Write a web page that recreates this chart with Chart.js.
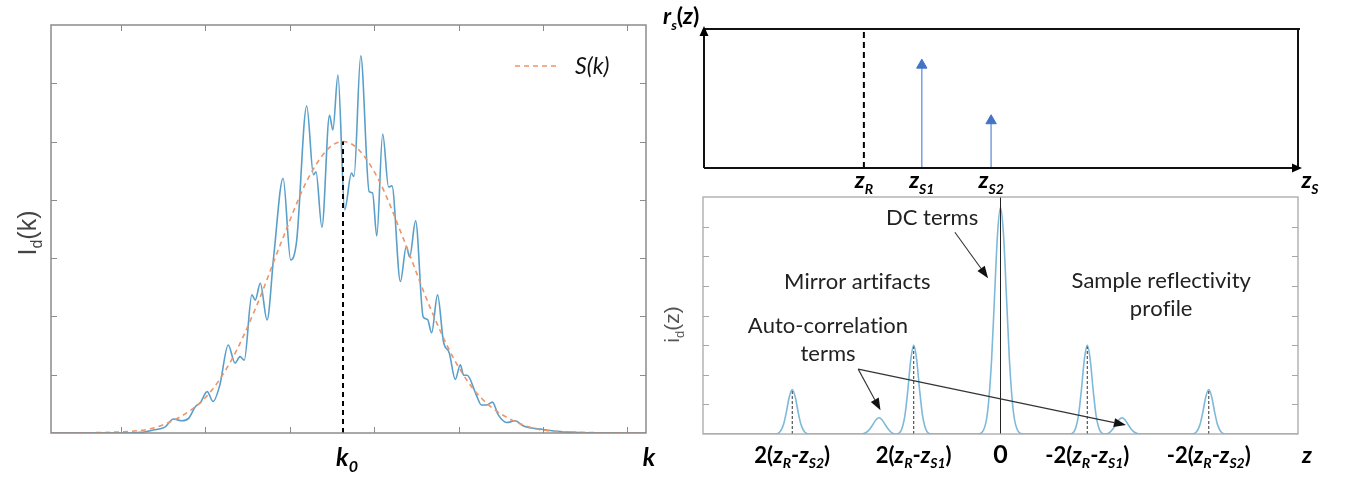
<!DOCTYPE html>
<html>
<head>
<meta charset="utf-8">
<script src="https://cdn.jsdelivr.net/npm/chart.js@4.4.0/dist/chart.umd.min.js"></script>
<style>
  html, body { margin: 0; padding: 0; background: #fff; }
  #wrap { position: relative; width: 1345px; height: 477px; overflow: hidden; }
  canvas { position: absolute; }
</style>
</head>
<body>
<div id="wrap">
  <canvas id="spectrum" width="680" height="477" style="left:0;top:0"></canvas>
  <canvas id="ascan" width="705" height="287" style="left:640px;top:190px"></canvas>
  <canvas id="reflect" width="705" height="205" style="left:640px;top:0"></canvas>
</div>
<script>
// ---- left: spectral interferogram I_d(k) and source spectrum S(k)
const kValues = [-0.83, 0.10, 0.23, 0.38, 0.52, 0.62, 0.72, 0.80, 0.88, 0.94, 1.02, 1.09, 1.17, 1.27, 1.35, 1.41, 1.46,
  1.55, 1.59, 1.65, 1.73, 1.81, 1.92, 2.01, 2.08, 2.20, 2.28, 2.31, 2.38, 2.47, 2.51, 2.57, 2.65, 2.73, 2.76, 2.84,
  2.94, 2.98, 3.03, 3.10, 3.17, 3.21, 3.31, 3.38, 3.42, 3.49, 3.58, 3.63, 3.68, 3.75, 3.82, 3.89, 3.96, 4.02, 4.06,
  4.10, 4.21, 4.27, 4.33, 4.40, 4.47, 4.57, 4.67, 4.77, 5.00, 5.24, 5.64, 6.22];
const idValues = [0, 0, 0.01, 0.05, 0.10, 0.24, 0.21, 0.25, 0.45, 0.52, 0.71, 0.54, 0.82, 1.51, 1.20, 1.31, 1.25,
  2.37, 2.28, 2.57, 1.94, 3.05, 4.37, 2.97, 3.29, 5.61, 4.43, 4.48, 3.53, 5.45, 5.20, 6.14, 3.83, 4.46, 4.40, 6.47,
  4.14, 4.12, 3.38, 5.13, 4.22, 4.24, 2.60, 3.20, 3.02, 3.64, 1.99, 1.95, 1.72, 2.37, 1.57, 1.37, 0.92, 1.17, 0.99,
  0.99, 0.65, 0.48, 0.48, 0.53, 0.31, 0.18, 0.21, 0.12, 0.06, 0.02, 0, 0];
const sourceK = [-0.83, 0, 0.5, 1.0, 1.3, 1.6, 1.9, 2.2, 2.45, 2.63, 2.81, 3.06, 3.36, 3.66, 3.96, 4.26, 4.76, 5.26, 6.22];
const sourceValues = [0, 0.02, 0.14, 0.61, 1.23, 2.16, 3.28, 4.32, 4.87, 5.0, 4.87, 4.32, 3.28, 2.16, 1.23, 0.61, 0.14, 0.02, 0];
const k0 = 2.63;
const kTicks = [0, 1, 2, 3, 4, 5, 6];
const iTicks = [1, 2, 3, 4, 5, 6];

// ---- top right: sample reflectivity r_s(z)
const zR = 3.23;
const zSamples = [4.40, 5.80];
const rsValues = [0.74, 0.34];
const zSampleLabels = ['z_{S1}', 'z_{S2}'];

// ---- bottom right: A-scan i_d(z)
const zValues = [-6, -4.56, -4.46, -4.38, -4.32, -4.26, -4.2, -4.14, -4.08, -4.02, -3.94, -3.84,
  -2.81, -2.71, -2.63, -2.57, -2.51, -2.45, -2.39, -2.33, -2.27, -2.19,
  -2.11, -2.01, -1.93, -1.87, -1.81, -1.75, -1.69, -1.63, -1.57, -1.49, -1.39,
  -0.46, -0.36, -0.26, -0.18, -0.12, -0.06, 0, 0.06, 0.12, 0.18, 0.26, 0.36, 0.46,
  1.39, 1.49, 1.57, 1.63, 1.69, 1.75, 1.81, 1.87, 1.93, 2.01, 2.11,
  2.19, 2.27, 2.33, 2.39, 2.45, 2.51, 2.57, 2.63, 2.71, 2.81,
  3.84, 3.94, 4.02, 4.08, 4.14, 4.2, 4.26, 4.32, 4.38, 4.46, 4.56, 6];
const aScanValues = [0, 0, 0.05, 0.3, 0.73, 1.25, 1.5, 1.25, 0.73, 0.3, 0.05, 0,
  0, 0.05, 0.18, 0.33, 0.48, 0.55, 0.48, 0.33, 0.18, 0.04,
  0, 0.1, 0.6, 1.46, 2.5, 3.0, 2.5, 1.46, 0.6, 0.1, 0,
  0, 0.08, 0.75, 2.5, 4.65, 6.75, 7.65, 6.75, 4.65, 2.5, 0.75, 0.08, 0,
  0, 0.1, 0.6, 1.46, 2.5, 3.0, 2.5, 1.46, 0.6, 0.1, 0,
  0.04, 0.18, 0.33, 0.48, 0.55, 0.48, 0.33, 0.18, 0.05, 0,
  0, 0.05, 0.3, 0.73, 1.25, 1.5, 1.25, 0.73, 0.3, 0.05, 0, 0];
const mirrorPos = [-4.2, -1.75, 1.75, 4.2];
const mirrorHeights = [1.45, 2.95, 2.95, 1.45];
const zTickPos = [-4.2, -1.75, 0, 1.75, 4.2];
const zTickLabels = ['2(z_R-z_{S2})', '2(z_R-z_{S1})', '0', '-2(z_R-z_{S1})', '-2(z_R-z_{S2})'];
const aTicks = [1, 2, 3, 4, 5, 6, 7];

const BLUE = '#5a9fc9';
const BLUE_LIGHT = '#7fb9d8';
const ORANGE = '#ec9569';

// split "z_{S1}" style strings into runs; letters are italic in math mode
function parseLabel(s, mathItalic) {
  const parts = [];
  let i = 0;
  while (i < s.length) {
    if (s[i] === '_') {
      let t;
      if (s[i + 1] === '{') { const j = s.indexOf('}', i); t = s.slice(i + 2, j); i = j + 1; }
      else { t = s[i + 1]; i += 2; }
      parts.push({ t, sub: true, it: mathItalic });
    } else {
      parts.push({ t: s[i], it: mathItalic && /[a-zA-Z]/.test(s[i]) });
      i++;
    }
  }
  return parts;
}

function richText(ctx, s, x, y, o) {
  const size = o.size, weight = o.weight || 'bold', family = o.family || 'Lato';
  const parts = parseLabel(s, o.math !== false);
  const fontOf = p => `${(p.it || o.italic) ? 'italic ' : ''}${weight} ${p.sub ? Math.round(size * 0.62) : size}px ${family}`;
  let total = 0;
  const widths = parts.map(p => { ctx.font = fontOf(p); const w = ctx.measureText(p.t).width; total += w; return w; });
  let cx = o.align === 'left' ? x : (o.align === 'right' ? x - total : x - total / 2);
  ctx.textAlign = 'left';
  ctx.textBaseline = 'alphabetic';
  ctx.fillStyle = o.color || '#000';
  parts.forEach((p, i) => {
    ctx.font = fontOf(p);
    ctx.fillText(p.t, cx, y + (p.sub ? size * 0.24 : 0));
    cx += widths[i];
  });
}

function arrow(ctx, x1, y1, x2, y2, len, half) {
  const a = Math.atan2(y2 - y1, x2 - x1);
  const bx = x2 - Math.cos(a) * len, by = y2 - Math.sin(a) * len;
  ctx.beginPath();
  ctx.moveTo(x1, y1);
  ctx.lineTo(bx, by);
  ctx.stroke();
  ctx.beginPath();
  ctx.moveTo(x2, y2);
  ctx.lineTo(bx + Math.sin(a) * half, by - Math.cos(a) * half);
  ctx.lineTo(bx - Math.sin(a) * half, by + Math.cos(a) * half);
  ctx.closePath();
  ctx.fill();
}

function seg(ctx, x1, y1, x2, y2) {
  ctx.beginPath(); ctx.moveTo(x1, y1); ctx.lineTo(x2, y2); ctx.stroke();
}

const pairs = (xs, ys) => xs.map((x, i) => ({ x, y: ys[i] }));

const spectrumDecor = {
  id: 'spectrumDecor',
  afterDatasetsDraw(chart) {
    const { ctx, chartArea: a, scales: { x, y } } = chart;
    ctx.save();
    ctx.strokeStyle = '#8c8c8c';
    ctx.lineWidth = 1.5;
    ctx.strokeRect(a.left, a.top, a.right - a.left, a.bottom - a.top);
    ctx.lineWidth = 1;
    kTicks.forEach(v => {
      const px = Math.round(x.getPixelForValue(v)) + 0.5;
      seg(ctx, px, a.bottom, px, a.bottom - 6);
      seg(ctx, px, a.top, px, a.top + 6);
    });
    iTicks.forEach(v => {
      const py = Math.round(y.getPixelForValue(v)) + 0.5;
      seg(ctx, a.left, py, a.left + 6, py);
      seg(ctx, a.right, py, a.right - 6, py);
    });
    // legend
    ctx.strokeStyle = ORANGE;
    ctx.lineWidth = 1.6;
    ctx.setLineDash([5, 4]);
    seg(ctx, a.right - 131, a.top + 41, a.right - 86, a.top + 41);
    ctx.setLineDash([]);
    richText(ctx, 'S(k)', a.right - 71, a.top + 49, { size: 23, weight: 'normal', italic: true, align: 'left', color: '#111' });
    // axis labels
    richText(ctx, 'k_0', x.getPixelForValue(k0) + 4, 466, { size: 25, align: 'center' });
    richText(ctx, 'k', a.right + 3, 466, { size: 25, align: 'center' });
    ctx.translate(36, (a.top + a.bottom) / 2 + 4);
    ctx.rotate(-Math.PI / 2);
    richText(ctx, 'I_d(k)', 0, 0, { size: 25, weight: 'normal', family: 'Liberation Sans', math: false, align: 'center', color: '#444' });
    ctx.restore();
  }
};

new Chart(document.getElementById('spectrum'), {
  type: 'line',
  data: {
    datasets: [
      { label: 'k0', data: [{ x: k0, y: 0 }, { x: k0, y: Math.max(...sourceValues) }], borderColor: '#000',
        borderDash: [5, 4], borderWidth: 2, pointRadius: 0 },
      { label: 'S(k)', data: pairs(sourceK, sourceValues), borderColor: ORANGE, borderDash: [5, 4], borderWidth: 1.6,
        pointRadius: 0, cubicInterpolationMode: 'monotone' },
      { label: 'I_d(k)', data: pairs(kValues, idValues), borderColor: BLUE, borderWidth: 1.6, pointRadius: 0,
        cubicInterpolationMode: 'monotone' }
    ]
  },
  options: {
    responsive: false,
    animation: false,
    layout: { padding: { left: 51, right: 34, top: 25, bottom: 44 } },
    plugins: { legend: { display: false }, tooltip: { enabled: false } },
    scales: {
      x: { type: 'linear', min: -0.83, max: 6.22, display: false },
      y: { min: 0, max: 7, display: false }
    }
  },
  plugins: [spectrumDecor]
});

const reflectDecor = {
  id: 'reflectDecor',
  afterDatasetsDraw(chart) {
    const { ctx, chartArea: a, scales: { x } } = chart;
    ctx.save();
    ctx.strokeStyle = '#111';
    ctx.fillStyle = '#000';
    ctx.lineWidth = 2;
    seg(ctx, a.left, a.top, a.right + 2, a.top);
    seg(ctx, a.right, a.top, a.right, a.bottom);
    arrow(ctx, a.left, a.bottom, a.left, a.top - 3, 10, 4.5);
    arrow(ctx, a.left, a.bottom, a.right + 4, a.bottom, 10, 4.5);
    richText(ctx, 'r_s(z)', a.left - 41, a.top - 5, { size: 23, align: 'left' });
    richText(ctx, 'z_R', x.getPixelForValue(zR), a.bottom + 20, { size: 23 });
    zSamples.forEach((z, i) => richText(ctx, zSampleLabels[i], x.getPixelForValue(z), a.bottom + 20, { size: 23 }));
    richText(ctx, 'z_S', a.right + 12, a.bottom + 20, { size: 23 });
    ctx.restore();
  }
};

new Chart(document.getElementById('reflect'), {
  type: 'line',
  data: {
    datasets: [
      { label: 'z_R', data: [{ x: zR, y: 0 }, { x: zR, y: 1 }], borderColor: '#000', borderDash: [6, 4],
        borderWidth: 2, pointRadius: 0 },
      ...zSamples.map((z, i) => ({
        label: zSampleLabels[i],
        data: [{ x: z, y: 0 }, { x: z, y: rsValues[i] }],
        borderColor: '#7aa0de',
        borderWidth: 1.5,
        pointStyle: 'triangle',
        pointRadius: c => (c.dataIndex === 1 ? 6 : 0),
        pointBackgroundColor: '#4472c4',
        pointBorderColor: '#4472c4',
        pointBorderWidth: 1
      }))
    ]
  },
  options: {
    responsive: false,
    animation: false,
    layout: { padding: { left: 64, right: 47, top: 29, bottom: 37 } },
    plugins: { legend: { display: false }, tooltip: { enabled: false } },
    scales: {
      x: { type: 'linear', min: 0, max: 12, display: false },
      y: { min: 0, max: 1, display: false }
    }
  },
  plugins: [reflectDecor]
});

const ascanDecor = {
  id: 'ascanDecor',
  afterDatasetsDraw(chart) {
    const { ctx, chartArea: a, scales: { x, y } } = chart;
    const P = (zx, zy) => [x.getPixelForValue(zx), y.getPixelForValue(zy)];
    ctx.save();
    ctx.strokeStyle = '#a8a8a8';
    ctx.lineWidth = 1.3;
    ctx.strokeRect(a.left, a.top, a.right - a.left, a.bottom - a.top);
    ctx.lineWidth = 1;
    aTicks.forEach(v => {
      const py = Math.round(y.getPixelForValue(v)) + 0.5;
      seg(ctx, a.left, py, a.left + 6, py);
      seg(ctx, a.right, py, a.right - 6, py);
    });
    // annotations
    const txt = { size: 22, weight: 'normal', math: false, color: '#222' };
    [['DC terms', -1.38, 7.05], ['Mirror artifacts', -2.89, 4.9], ['Auto-correlation', -3.48, 3.42],
     ['terms', -3.48, 2.47], ['Sample reflectivity', 3.24, 4.93], ['profile', 3.24, 3.99]]
      .forEach(([t, zx, zy]) => { const [px, py] = P(zx, zy); richText(ctx, t, px, py, txt); });
    ctx.strokeStyle = '#333';
    ctx.fillStyle = '#111';
    ctx.lineWidth = 1.1;
    [[-0.92, 6.81, -0.25, 5.26], [-2.87, 2.19, -2.42, 0.80], [-2.87, 2.19, 2.53, 0.30]].forEach(([x1, y1, x2, y2]) => {
      const [a1, b1] = P(x1, y1), [a2, b2] = P(x2, y2);
      arrow(ctx, a1, b1, a2, b2, 12, 4.5);
    });
    // tick labels along z
    zTickPos.forEach((z, i) => richText(ctx, zTickLabels[i], x.getPixelForValue(z), 273, { size: i === 2 ? 25 : 22 }));
    richText(ctx, 'z', a.right + 9, 273, { size: 23 });
    ctx.translate(a.left - 24, (a.top + a.bottom) / 2 + 9);
    ctx.rotate(-Math.PI / 2);
    richText(ctx, 'i_d(z)', 0, 0, { size: 21, weight: 'normal', family: 'Liberation Sans', math: false, color: '#555' });
    ctx.restore();
  }
};

new Chart(document.getElementById('ascan'), {
  type: 'line',
  data: {
    datasets: [
      { label: 'zero', data: [{ x: 0, y: 0 }, { x: 0, y: 8 }], borderColor: '#222', borderWidth: 1, pointRadius: 0 },
      ...mirrorPos.map((z, i) => ({
        label: 'm' + i, data: [{ x: z, y: 0 }, { x: z, y: mirrorHeights[i] }],
        borderColor: '#333', borderWidth: 1, borderDash: [3, 2], pointRadius: 0
      })),
      { label: 'i_d(z)', data: pairs(zValues, aScanValues), borderColor: BLUE_LIGHT, borderWidth: 1.6, pointRadius: 0,
        cubicInterpolationMode: 'monotone' }
    ]
  },
  options: {
    responsive: false,
    animation: false,
    layout: { padding: { left: 63, right: 47, top: 7, bottom: 43 } },
    plugins: { legend: { display: false }, tooltip: { enabled: false } },
    scales: {
      x: { type: 'linear', min: -6, max: 6, display: false },
      y: { min: 0, max: 8, display: false }
    }
  },
  plugins: [ascanDecor]
});
</script>
</body>
</html>
